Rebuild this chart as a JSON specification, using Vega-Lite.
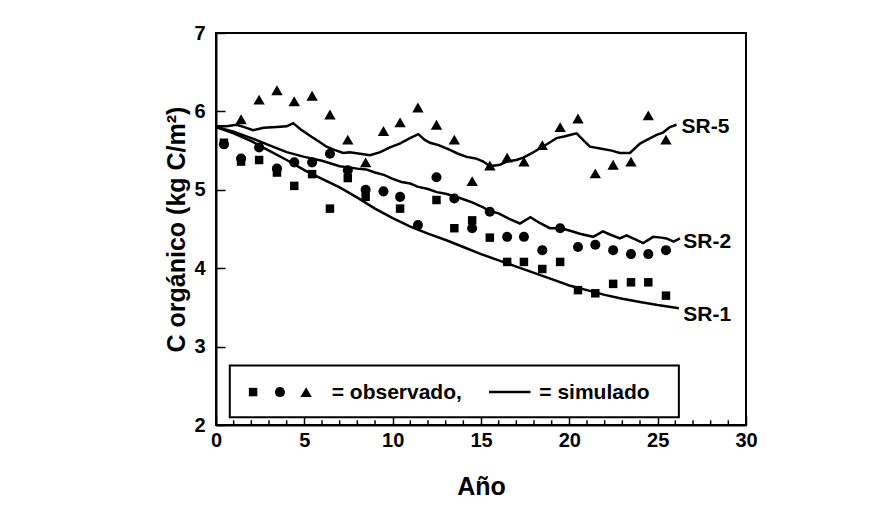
{
  "$schema": "https://vega.github.io/schema/vega-lite/v6.json",
  "autosize": "none",
  "width": 530,
  "height": 392,
  "padding": {"left": 216, "top": 33, "right": 128, "bottom": 88},
  "background": "white",
  "config": {
    "view": {"stroke": "black", "strokeWidth": 2},
    "font": "Liberation Sans",
    "axis": {
      "domainColor": "black",
      "domainWidth": 2,
      "tickColor": "black",
      "tickWidth": 1.5,
      "grid": false,
      "labelFont": "Liberation Sans",
      "labelFontWeight": "bold",
      "labelFontSize": 20,
      "labelColor": "black",
      "titleFont": "Liberation Sans",
      "titleFontWeight": "bold",
      "titleFontSize": 25,
      "titleColor": "black"
    }
  },
  "datasets": {
    "simulado": [
      {"serie": "SR-1", "anio": 0, "c": 5.80}, {"serie": "SR-1", "anio": 1, "c": 5.72}, {"serie": "SR-1", "anio": 2, "c": 5.62},
      {"serie": "SR-1", "anio": 3, "c": 5.50}, {"serie": "SR-1", "anio": 4, "c": 5.38}, {"serie": "SR-1", "anio": 5, "c": 5.25},
      {"serie": "SR-1", "anio": 6, "c": 5.14}, {"serie": "SR-1", "anio": 7, "c": 5.03}, {"serie": "SR-1", "anio": 8, "c": 4.90},
      {"serie": "SR-1", "anio": 9, "c": 4.76}, {"serie": "SR-1", "anio": 10, "c": 4.64}, {"serie": "SR-1", "anio": 11, "c": 4.53},
      {"serie": "SR-1", "anio": 12, "c": 4.44}, {"serie": "SR-1", "anio": 13, "c": 4.36}, {"serie": "SR-1", "anio": 14, "c": 4.27},
      {"serie": "SR-1", "anio": 15, "c": 4.18}, {"serie": "SR-1", "anio": 16, "c": 4.10}, {"serie": "SR-1", "anio": 17, "c": 4.02},
      {"serie": "SR-1", "anio": 18, "c": 3.94}, {"serie": "SR-1", "anio": 19, "c": 3.86}, {"serie": "SR-1", "anio": 20, "c": 3.78},
      {"serie": "SR-1", "anio": 21, "c": 3.72}, {"serie": "SR-1", "anio": 22, "c": 3.66}, {"serie": "SR-1", "anio": 23, "c": 3.61},
      {"serie": "SR-1", "anio": 24, "c": 3.57}, {"serie": "SR-1", "anio": 25, "c": 3.53}, {"serie": "SR-1", "anio": 26.2, "c": 3.49},

      {"serie": "SR-2", "anio": 0, "c": 5.80}, {"serie": "SR-2", "anio": 1, "c": 5.74}, {"serie": "SR-2", "anio": 2, "c": 5.66},
      {"serie": "SR-2", "anio": 3, "c": 5.57}, {"serie": "SR-2", "anio": 4, "c": 5.48}, {"serie": "SR-2", "anio": 5, "c": 5.42},
      {"serie": "SR-2", "anio": 6, "c": 5.37}, {"serie": "SR-2", "anio": 7, "c": 5.30}, {"serie": "SR-2", "anio": 8, "c": 5.27},
      {"serie": "SR-2", "anio": 8.5, "c": 5.26}, {"serie": "SR-2", "anio": 9, "c": 5.22}, {"serie": "SR-2", "anio": 9.5, "c": 5.19},
      {"serie": "SR-2", "anio": 10, "c": 5.14}, {"serie": "SR-2", "anio": 10.5, "c": 5.10}, {"serie": "SR-2", "anio": 11, "c": 5.08},
      {"serie": "SR-2", "anio": 11.4, "c": 5.04}, {"serie": "SR-2", "anio": 12, "c": 5.01}, {"serie": "SR-2", "anio": 12.5, "c": 4.97},
      {"serie": "SR-2", "anio": 13, "c": 4.95}, {"serie": "SR-2", "anio": 13.5, "c": 4.92}, {"serie": "SR-2", "anio": 14, "c": 4.88},
      {"serie": "SR-2", "anio": 14.5, "c": 4.84}, {"serie": "SR-2", "anio": 15, "c": 4.79}, {"serie": "SR-2", "anio": 15.5, "c": 4.73},
      {"serie": "SR-2", "anio": 16, "c": 4.70}, {"serie": "SR-2", "anio": 16.6, "c": 4.63}, {"serie": "SR-2", "anio": 17.2, "c": 4.57},
      {"serie": "SR-2", "anio": 17.8, "c": 4.65}, {"serie": "SR-2", "anio": 18.3, "c": 4.58}, {"serie": "SR-2", "anio": 18.9, "c": 4.51},
      {"serie": "SR-2", "anio": 19.5, "c": 4.51}, {"serie": "SR-2", "anio": 20, "c": 4.48}, {"serie": "SR-2", "anio": 20.6, "c": 4.44},
      {"serie": "SR-2", "anio": 21.35, "c": 4.40}, {"serie": "SR-2", "anio": 21.9, "c": 4.47}, {"serie": "SR-2", "anio": 22.3, "c": 4.43},
      {"serie": "SR-2", "anio": 22.86, "c": 4.38}, {"serie": "SR-2", "anio": 23.24, "c": 4.42}, {"serie": "SR-2", "anio": 23.7, "c": 4.37},
      {"serie": "SR-2", "anio": 24.18, "c": 4.32}, {"serie": "SR-2", "anio": 24.75, "c": 4.40}, {"serie": "SR-2", "anio": 25.2, "c": 4.39},
      {"serie": "SR-2", "anio": 25.5, "c": 4.38}, {"serie": "SR-2", "anio": 25.9, "c": 4.34}, {"serie": "SR-2", "anio": 26.26, "c": 4.38},

      {"serie": "SR-5", "anio": 0, "c": 5.81}, {"serie": "SR-5", "anio": 0.6, "c": 5.81}, {"serie": "SR-5", "anio": 1.17, "c": 5.83},
      {"serie": "SR-5", "anio": 1.6, "c": 5.80}, {"serie": "SR-5", "anio": 2.1, "c": 5.76}, {"serie": "SR-5", "anio": 2.7, "c": 5.79},
      {"serie": "SR-5", "anio": 3.43, "c": 5.80}, {"serie": "SR-5", "anio": 4.0, "c": 5.81}, {"serie": "SR-5", "anio": 4.37, "c": 5.85},
      {"serie": "SR-5", "anio": 4.8, "c": 5.77}, {"serie": "SR-5", "anio": 5.32, "c": 5.69}, {"serie": "SR-5", "anio": 5.8, "c": 5.62},
      {"serie": "SR-5", "anio": 6.26, "c": 5.55}, {"serie": "SR-5", "anio": 6.7, "c": 5.51}, {"serie": "SR-5", "anio": 7.2, "c": 5.47},
      {"serie": "SR-5", "anio": 7.58, "c": 5.48}, {"serie": "SR-5", "anio": 8.15, "c": 5.46}, {"serie": "SR-5", "anio": 8.72, "c": 5.44},
      {"serie": "SR-5", "anio": 9.3, "c": 5.48}, {"serie": "SR-5", "anio": 9.85, "c": 5.54}, {"serie": "SR-5", "anio": 10.4, "c": 5.59},
      {"serie": "SR-5", "anio": 10.98, "c": 5.66}, {"serie": "SR-5", "anio": 11.45, "c": 5.71}, {"serie": "SR-5", "anio": 11.8, "c": 5.64},
      {"serie": "SR-5", "anio": 12.11, "c": 5.60}, {"serie": "SR-5", "anio": 12.6, "c": 5.57}, {"serie": "SR-5", "anio": 13.24, "c": 5.51},
      {"serie": "SR-5", "anio": 13.7, "c": 5.46}, {"serie": "SR-5", "anio": 14.19, "c": 5.42}, {"serie": "SR-5", "anio": 14.7, "c": 5.40},
      {"serie": "SR-5", "anio": 15.13, "c": 5.36}, {"serie": "SR-5", "anio": 15.5, "c": 5.30}, {"serie": "SR-5", "anio": 16.07, "c": 5.32},
      {"serie": "SR-5", "anio": 16.45, "c": 5.36}, {"serie": "SR-5", "anio": 17.0, "c": 5.38}, {"serie": "SR-5", "anio": 17.4, "c": 5.41},
      {"serie": "SR-5", "anio": 17.9, "c": 5.47}, {"serie": "SR-5", "anio": 18.34, "c": 5.53}, {"serie": "SR-5", "anio": 18.8, "c": 5.59},
      {"serie": "SR-5", "anio": 19.28, "c": 5.66}, {"serie": "SR-5", "anio": 19.7, "c": 5.68}, {"serie": "SR-5", "anio": 20.03, "c": 5.70},
      {"serie": "SR-5", "anio": 20.41, "c": 5.72}, {"serie": "SR-5", "anio": 20.8, "c": 5.63}, {"serie": "SR-5", "anio": 21.17, "c": 5.55},
      {"serie": "SR-5", "anio": 21.9, "c": 5.52}, {"serie": "SR-5", "anio": 22.4, "c": 5.50}, {"serie": "SR-5", "anio": 22.86, "c": 5.47},
      {"serie": "SR-5", "anio": 23.43, "c": 5.47}, {"serie": "SR-5", "anio": 24.0, "c": 5.59}, {"serie": "SR-5", "anio": 24.5, "c": 5.65},
      {"serie": "SR-5", "anio": 24.94, "c": 5.70}, {"serie": "SR-5", "anio": 25.3, "c": 5.73}, {"serie": "SR-5", "anio": 25.69, "c": 5.80},
      {"serie": "SR-5", "anio": 26.07, "c": 5.83}
    ],
    "observado": [
      {"serie": "SR-1", "anio": 0.45, "c": 5.60}, {"serie": "SR-1", "anio": 1.42, "c": 5.36}, {"serie": "SR-1", "anio": 2.44, "c": 5.38},
      {"serie": "SR-1", "anio": 3.45, "c": 5.22}, {"serie": "SR-1", "anio": 4.43, "c": 5.05}, {"serie": "SR-1", "anio": 5.44, "c": 5.20},
      {"serie": "SR-1", "anio": 6.45, "c": 4.76}, {"serie": "SR-1", "anio": 7.46, "c": 5.15}, {"serie": "SR-1", "anio": 8.47, "c": 4.91},
      {"serie": "SR-1", "anio": 10.42, "c": 4.76}, {"serie": "SR-1", "anio": 12.48, "c": 4.87}, {"serie": "SR-1", "anio": 13.49, "c": 4.51},
      {"serie": "SR-1", "anio": 14.5, "c": 4.61}, {"serie": "SR-1", "anio": 15.5, "c": 4.39}, {"serie": "SR-1", "anio": 16.48, "c": 4.08},
      {"serie": "SR-1", "anio": 17.43, "c": 4.08}, {"serie": "SR-1", "anio": 18.47, "c": 3.99}, {"serie": "SR-1", "anio": 19.48, "c": 4.08},
      {"serie": "SR-1", "anio": 20.49, "c": 3.72}, {"serie": "SR-1", "anio": 21.47, "c": 3.68}, {"serie": "SR-1", "anio": 22.48, "c": 3.80},
      {"serie": "SR-1", "anio": 23.49, "c": 3.82}, {"serie": "SR-1", "anio": 24.47, "c": 3.82}, {"serie": "SR-1", "anio": 25.47, "c": 3.65},

      {"serie": "SR-2", "anio": 0.45, "c": 5.58}, {"serie": "SR-2", "anio": 1.42, "c": 5.40}, {"serie": "SR-2", "anio": 2.44, "c": 5.54},
      {"serie": "SR-2", "anio": 3.45, "c": 5.27}, {"serie": "SR-2", "anio": 4.43, "c": 5.35}, {"serie": "SR-2", "anio": 5.44, "c": 5.35},
      {"serie": "SR-2", "anio": 6.45, "c": 5.46}, {"serie": "SR-2", "anio": 7.46, "c": 5.25}, {"serie": "SR-2", "anio": 8.47, "c": 5.00},
      {"serie": "SR-2", "anio": 9.48, "c": 4.98}, {"serie": "SR-2", "anio": 10.42, "c": 4.91}, {"serie": "SR-2", "anio": 11.43, "c": 4.55},
      {"serie": "SR-2", "anio": 12.48, "c": 5.16}, {"serie": "SR-2", "anio": 13.49, "c": 4.89}, {"serie": "SR-2", "anio": 14.5, "c": 4.51},
      {"serie": "SR-2", "anio": 15.5, "c": 4.72}, {"serie": "SR-2", "anio": 16.48, "c": 4.40}, {"serie": "SR-2", "anio": 17.43, "c": 4.40},
      {"serie": "SR-2", "anio": 18.47, "c": 4.23}, {"serie": "SR-2", "anio": 19.48, "c": 4.51}, {"serie": "SR-2", "anio": 20.49, "c": 4.27},
      {"serie": "SR-2", "anio": 21.47, "c": 4.30}, {"serie": "SR-2", "anio": 22.48, "c": 4.23}, {"serie": "SR-2", "anio": 23.49, "c": 4.18},
      {"serie": "SR-2", "anio": 24.47, "c": 4.18}, {"serie": "SR-2", "anio": 25.47, "c": 4.23},

      {"serie": "SR-5", "anio": 1.42, "c": 5.90}, {"serie": "SR-5", "anio": 2.44, "c": 6.15}, {"serie": "SR-5", "anio": 3.45, "c": 6.27},
      {"serie": "SR-5", "anio": 4.43, "c": 6.13}, {"serie": "SR-5", "anio": 5.44, "c": 6.20}, {"serie": "SR-5", "anio": 6.45, "c": 5.96},
      {"serie": "SR-5", "anio": 7.46, "c": 5.64}, {"serie": "SR-5", "anio": 8.47, "c": 5.35}, {"serie": "SR-5", "anio": 9.48, "c": 5.75},
      {"serie": "SR-5", "anio": 10.42, "c": 5.86}, {"serie": "SR-5", "anio": 11.43, "c": 6.05}, {"serie": "SR-5", "anio": 12.48, "c": 5.83},
      {"serie": "SR-5", "anio": 13.49, "c": 5.64}, {"serie": "SR-5", "anio": 14.5, "c": 5.11}, {"serie": "SR-5", "anio": 15.5, "c": 5.31},
      {"serie": "SR-5", "anio": 16.48, "c": 5.41}, {"serie": "SR-5", "anio": 17.43, "c": 5.36}, {"serie": "SR-5", "anio": 18.47, "c": 5.57},
      {"serie": "SR-5", "anio": 19.48, "c": 5.80}, {"serie": "SR-5", "anio": 20.49, "c": 5.91}, {"serie": "SR-5", "anio": 21.47, "c": 5.21},
      {"serie": "SR-5", "anio": 22.48, "c": 5.32}, {"serie": "SR-5", "anio": 23.49, "c": 5.36}, {"serie": "SR-5", "anio": 24.47, "c": 5.95},
      {"serie": "SR-5", "anio": 25.47, "c": 5.64}
    ],
    "etiquetas": [
      {"serie": "SR-5", "anio": 26.35, "c": 5.80},
      {"serie": "SR-2", "anio": 26.45, "c": 4.34},
      {"serie": "SR-1", "anio": 26.45, "c": 3.40}
    ],
    "leyenda": [
      {"simbolo": "SR-1", "pos": 2.1},
      {"simbolo": "SR-2", "pos": 3.62},
      {"simbolo": "SR-5", "pos": 5.1}
    ],
    "menores": [
      {"anio": 1}, {"anio": 2}, {"anio": 3}, {"anio": 4}, {"anio": 6}, {"anio": 7}, {"anio": 8}, {"anio": 9},
      {"anio": 11}, {"anio": 12}, {"anio": 13}, {"anio": 14}, {"anio": 16}, {"anio": 17}, {"anio": 18}, {"anio": 19},
      {"anio": 21}, {"anio": 22}, {"anio": 23}, {"anio": 24}, {"anio": 26}, {"anio": 27}, {"anio": 28}, {"anio": 29}
    ],
    "uno": [{}]
  },
  "layer": [
    {
      "data": {"name": "simulado"},
      "mark": {"type": "line", "color": "black", "strokeWidth": 2.5},
      "encoding": {
        "x": {
          "field": "anio", "type": "quantitative",
          "scale": {"domain": [0, 30], "nice": false},
          "axis": {
            "title": "Año",
            "values": [0, 5, 10, 15, 20, 25, 30],
            "format": "d",
            "labelOverlap": false,
            "tickSize": -9,
            "labelPadding": 14,
            "titlePadding": 24,
            "labelFlush": false
          }
        },
        "y": {
          "field": "c", "type": "quantitative",
          "scale": {"domain": [2, 7], "nice": false},
          "axis": {
            "title": "C orgánico (kg C/m²)",
            "values": [2, 3, 4, 5, 6, 7],
            "format": "d",
            "labelOverlap": false,
            "tickSize": -9,
            "labelPadding": 20,
            "titlePadding": 4,
            "labelFlush": false
          }
        },
        "detail": {"field": "serie"}
      }
    },
    {
      "data": {"name": "menores"},
      "mark": {"type": "rule", "color": "black", "strokeWidth": 1.5},
      "encoding": {
        "x": {"field": "anio", "type": "quantitative"},
        "y": {"datum": 2, "type": "quantitative"},
        "y2": {"datum": 2.06}
      }
    },
    {
      "data": {"name": "observado"},
      "mark": {"type": "point", "filled": true, "color": "black", "opacity": 1},
      "encoding": {
        "x": {"field": "anio", "type": "quantitative"},
        "y": {"field": "c", "type": "quantitative"},
        "shape": {
          "field": "serie", "type": "nominal",
          "scale": {"domain": ["SR-1", "SR-2", "SR-5"], "range": ["square", "circle", "triangle-up"]},
          "legend": null
        },
        "size": {
          "field": "serie", "type": "nominal",
          "scale": {"domain": ["SR-1", "SR-2", "SR-5"], "range": [72, 130, 115]},
          "legend": null
        }
      }
    },
    {
      "data": {"name": "etiquetas"},
      "mark": {"type": "text", "align": "left", "baseline": "middle", "fontSize": 21, "fontWeight": "bold", "font": "Liberation Sans", "color": "black"},
      "encoding": {
        "x": {"field": "anio", "type": "quantitative"},
        "y": {"field": "c", "type": "quantitative"},
        "text": {"field": "serie"}
      }
    },
    {
      "data": {"name": "uno"},
      "mark": {"type": "rect", "fill": "white", "stroke": "black", "strokeWidth": 2},
      "encoding": {
        "x": {"datum": 0.78, "type": "quantitative"},
        "x2": {"datum": 26.2},
        "y": {"datum": 2.76, "type": "quantitative"},
        "y2": {"datum": 2.1}
      }
    },
    {
      "data": {"name": "leyenda"},
      "mark": {"type": "point", "filled": true, "color": "black", "opacity": 1},
      "encoding": {
        "x": {"field": "pos", "type": "quantitative"},
        "y": {"datum": 2.42, "type": "quantitative"},
        "shape": {"field": "simbolo", "type": "nominal", "legend": null},
        "size": {"field": "simbolo", "type": "nominal", "legend": null}
      }
    },
    {
      "data": {"name": "uno"},
      "mark": {"type": "text", "align": "left", "baseline": "middle", "fontSize": 21, "fontWeight": "bold", "font": "Liberation Sans", "color": "black"},
      "encoding": {
        "x": {"datum": 6.55, "type": "quantitative"},
        "y": {"datum": 2.41, "type": "quantitative"},
        "text": {"value": "= observado,"}
      }
    },
    {
      "data": {"name": "uno"},
      "mark": {"type": "rule", "color": "black", "strokeWidth": 2.5},
      "encoding": {
        "x": {"datum": 15.45, "type": "quantitative"},
        "x2": {"datum": 17.8},
        "y": {"datum": 2.42, "type": "quantitative"}
      }
    },
    {
      "data": {"name": "uno"},
      "mark": {"type": "text", "align": "left", "baseline": "middle", "fontSize": 21, "fontWeight": "bold", "font": "Liberation Sans", "color": "black"},
      "encoding": {
        "x": {"datum": 18.3, "type": "quantitative"},
        "y": {"datum": 2.41, "type": "quantitative"},
        "text": {"value": "= simulado"}
      }
    }
  ]
}
